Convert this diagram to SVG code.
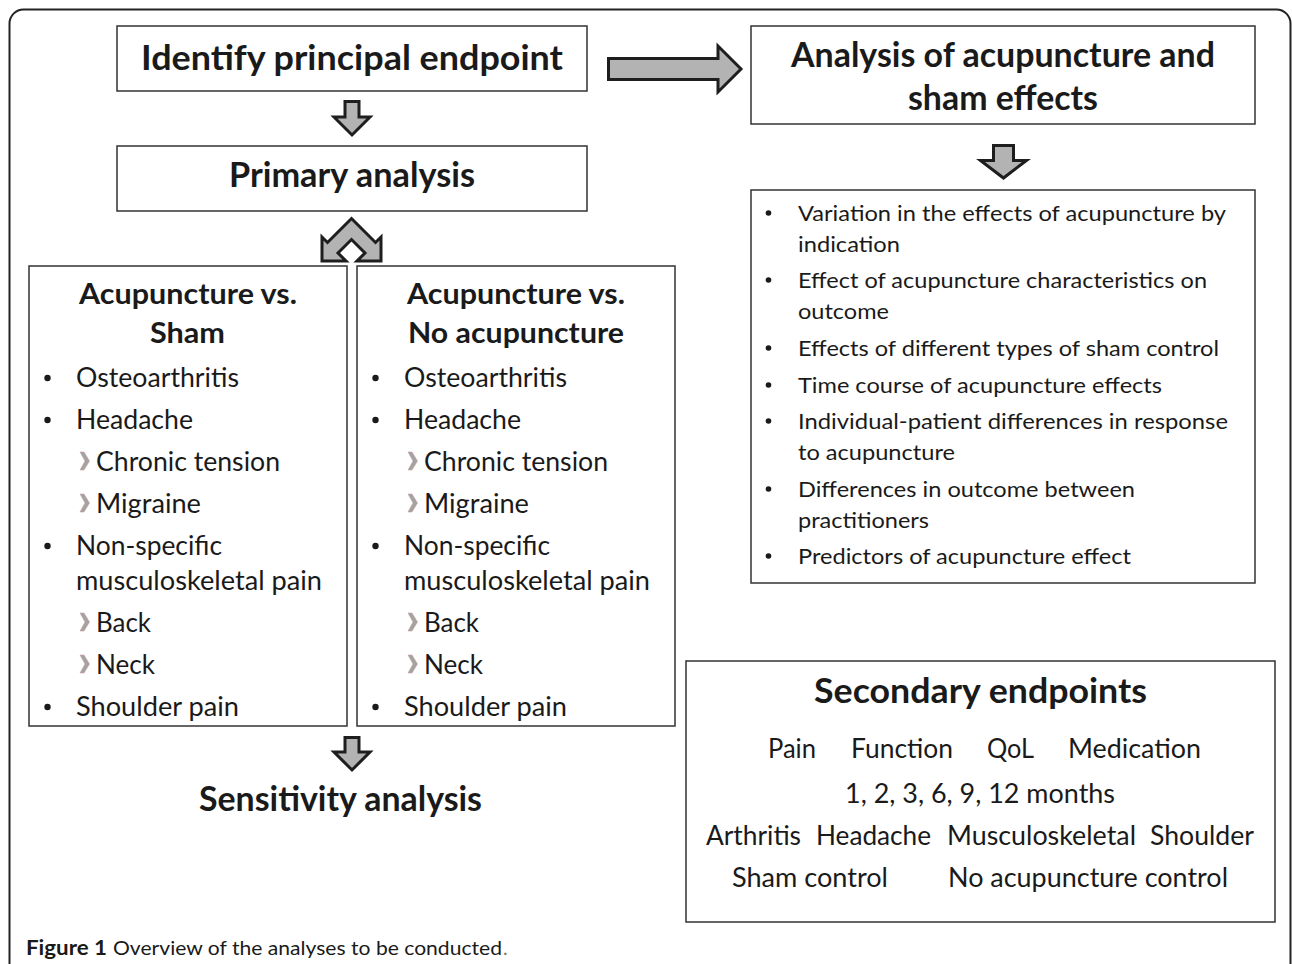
<svg xmlns="http://www.w3.org/2000/svg" width="1292" height="964" viewBox="0 0 1292 964">
<style>
text{font-family:Lato,"Open Sans","Liberation Sans",sans-serif;fill:#1a1a1a}
.box{fill:#fff;stroke:#333;stroke-width:1.5}
.h1{font-size:34px;font-weight:bold}
.h2{font-size:29px;font-weight:bold}
.it{font-size:26px}
.li{font-size:22px}
.cap{font-size:20px}
.arr{fill:#b3b3b3;stroke:#1e1e1e;stroke-width:3;stroke-linejoin:miter}
.dot{fill:#1a1a1a}
.chev{fill:#a3a3a3;stroke:#c9a0a0;stroke-width:0.6}
</style>
<rect x="9.5" y="9.5" width="1281" height="1010" rx="14" fill="none" stroke="#222" stroke-width="2"/>

<g id="connectors">
<polygon class="arr" points="608.5,58.5 718,58.5 718,46 741,69 718,92 718,79.5 608.5,79.5"/>
<polygon class="arr" points="345,101.5 359,101.5 359,117 370,117 352,135 334,117 345,117"/>
<polygon class="arr" points="351.5,218.5 375.5,242.5 381,237 381,261 357,261 365,253 351.5,239.5 338,253 346,261 322,261 322,237 327.5,242.5"/>
<polygon class="arr" points="345,737.5 359,737.5 359,752 370,752 352,770 334,752 345,752"/>
<polygon class="arr" points="993.5,145.5 1013.5,145.5 1013.5,160.5 1026.5,160.5 1003.5,178 980.5,160.5 993.5,160.5"/>
</g>

<g id="identify">
<rect class="box" x="117" y="26" width="470" height="65"/>
<text class="h1" x="141" y="70" textLength="422" lengthAdjust="spacingAndGlyphs">Identify principal endpoint</text>
</g>

<g id="analysis">
<rect class="box" x="751" y="26" width="504" height="98"/>
<text class="h1" x="791" y="67" textLength="424" lengthAdjust="spacingAndGlyphs">Analysis of acupuncture and</text>
<text class="h1" x="908" y="110" textLength="190" lengthAdjust="spacingAndGlyphs">sham effects</text>
</g>

<g id="primary">
<rect class="box" x="117" y="146" width="470" height="65"/>
<text class="h1" x="229" y="187" textLength="246" lengthAdjust="spacingAndGlyphs">Primary analysis</text>
</g>

<g id="sham">
<rect class="box" x="29" y="266" width="318" height="460"/>
<text class="h2" x="79" y="304" textLength="218" lengthAdjust="spacingAndGlyphs">Acupuncture vs.</text>
<text class="h2" x="150" y="343" textLength="75" lengthAdjust="spacingAndGlyphs">Sham</text>
<circle class="dot" cx="47.5" cy="378" r="3.2"/>
<text class="it" x="76" y="387" textLength="163" lengthAdjust="spacingAndGlyphs">Osteoarthritis</text>
<circle class="dot" cx="47.5" cy="420" r="3.2"/>
<text class="it" x="76" y="429" textLength="117" lengthAdjust="spacingAndGlyphs">Headache</text>
<polygon class="chev" points="80,452 84,452 89.5,461 84,470 80,470 85,461"/>
<text class="it" x="96" y="471" textLength="184" lengthAdjust="spacingAndGlyphs">Chronic tension</text>
<polygon class="chev" points="80,494 84,494 89.5,503 84,512 80,512 85,503"/>
<text class="it" x="96" y="513" textLength="105" lengthAdjust="spacingAndGlyphs">Migraine</text>
<circle class="dot" cx="47.5" cy="546" r="3.2"/>
<text class="it" x="76" y="555" textLength="146" lengthAdjust="spacingAndGlyphs">Non-specific</text>
<text class="it" x="76" y="590" textLength="246" lengthAdjust="spacingAndGlyphs">musculoskeletal pain</text>
<polygon class="chev" points="80,613 84,613 89.5,622 84,631 80,631 85,622"/>
<text class="it" x="96" y="632" textLength="55" lengthAdjust="spacingAndGlyphs">Back</text>
<polygon class="chev" points="80,655 84,655 89.5,664 84,673 80,673 85,664"/>
<text class="it" x="96" y="674" textLength="59" lengthAdjust="spacingAndGlyphs">Neck</text>
<circle class="dot" cx="47.5" cy="707" r="3.2"/>
<text class="it" x="76" y="716" textLength="163" lengthAdjust="spacingAndGlyphs">Shoulder pain</text>
</g>

<g id="noacu">
<rect class="box" x="357" y="266" width="318" height="460"/>
<text class="h2" x="407" y="304" textLength="218" lengthAdjust="spacingAndGlyphs">Acupuncture vs.</text>
<text class="h2" x="408" y="343" textLength="216" lengthAdjust="spacingAndGlyphs">No acupuncture</text>
<circle class="dot" cx="375.5" cy="378" r="3.2"/>
<text class="it" x="404" y="387" textLength="163" lengthAdjust="spacingAndGlyphs">Osteoarthritis</text>
<circle class="dot" cx="375.5" cy="420" r="3.2"/>
<text class="it" x="404" y="429" textLength="117" lengthAdjust="spacingAndGlyphs">Headache</text>
<polygon class="chev" points="408,452 412,452 417.5,461 412,470 408,470 413,461"/>
<text class="it" x="424" y="471" textLength="184" lengthAdjust="spacingAndGlyphs">Chronic tension</text>
<polygon class="chev" points="408,494 412,494 417.5,503 412,512 408,512 413,503"/>
<text class="it" x="424" y="513" textLength="105" lengthAdjust="spacingAndGlyphs">Migraine</text>
<circle class="dot" cx="375.5" cy="546" r="3.2"/>
<text class="it" x="404" y="555" textLength="146" lengthAdjust="spacingAndGlyphs">Non-specific</text>
<text class="it" x="404" y="590" textLength="246" lengthAdjust="spacingAndGlyphs">musculoskeletal pain</text>
<polygon class="chev" points="408,613 412,613 417.5,622 412,631 408,631 413,622"/>
<text class="it" x="424" y="632" textLength="55" lengthAdjust="spacingAndGlyphs">Back</text>
<polygon class="chev" points="408,655 412,655 417.5,664 412,673 408,673 413,664"/>
<text class="it" x="424" y="674" textLength="59" lengthAdjust="spacingAndGlyphs">Neck</text>
<circle class="dot" cx="375.5" cy="707" r="3.2"/>
<text class="it" x="404" y="716" textLength="163" lengthAdjust="spacingAndGlyphs">Shoulder pain</text>
</g>

<g id="sensitivity">
<text class="h1" x="199" y="811" textLength="283" lengthAdjust="spacingAndGlyphs">Sensitivity analysis</text>
</g>

<g id="effects-list">
<rect class="box" x="751" y="190" width="504" height="393"/>
<circle class="dot" cx="768.5" cy="213" r="2.8"/>
<text class="li" x="798" y="221" textLength="428" lengthAdjust="spacingAndGlyphs">Variation in the effects of acupuncture by</text>
<text class="li" x="798" y="252" textLength="102" lengthAdjust="spacingAndGlyphs">indication</text>
<circle class="dot" cx="768.5" cy="280" r="2.8"/>
<text class="li" x="798" y="288" textLength="409" lengthAdjust="spacingAndGlyphs">Effect of acupuncture characteristics on</text>
<text class="li" x="798" y="319" textLength="91" lengthAdjust="spacingAndGlyphs">outcome</text>
<circle class="dot" cx="768.5" cy="348" r="2.8"/>
<text class="li" x="798" y="356" textLength="421" lengthAdjust="spacingAndGlyphs">Effects of different types of sham control</text>
<circle class="dot" cx="768.5" cy="385" r="2.8"/>
<text class="li" x="798" y="393" textLength="364" lengthAdjust="spacingAndGlyphs">Time course of acupuncture effects</text>
<circle class="dot" cx="768.5" cy="421" r="2.8"/>
<text class="li" x="798" y="429" textLength="430" lengthAdjust="spacingAndGlyphs">Individual-patient differences in response</text>
<text class="li" x="798" y="460" textLength="157" lengthAdjust="spacingAndGlyphs">to acupuncture</text>
<circle class="dot" cx="768.5" cy="489" r="2.8"/>
<text class="li" x="798" y="497" textLength="337" lengthAdjust="spacingAndGlyphs">Differences in outcome between</text>
<text class="li" x="798" y="528" textLength="131" lengthAdjust="spacingAndGlyphs">practitioners</text>
<circle class="dot" cx="768.5" cy="556" r="2.8"/>
<text class="li" x="798" y="564" textLength="333" lengthAdjust="spacingAndGlyphs">Predictors of acupuncture effect</text>
</g>

<g id="secondary">
<rect class="box" x="686" y="661" width="589" height="261"/>
<text class="h1" x="814" y="703" textLength="333" lengthAdjust="spacingAndGlyphs">Secondary endpoints</text>
<text class="it" x="768" y="758" textLength="48" lengthAdjust="spacingAndGlyphs">Pain</text>
<text class="it" x="851" y="758" textLength="102" lengthAdjust="spacingAndGlyphs">Function</text>
<text class="it" x="987" y="758" textLength="47" lengthAdjust="spacingAndGlyphs">QoL</text>
<text class="it" x="1068" y="758" textLength="133" lengthAdjust="spacingAndGlyphs">Medication</text>
<text class="it" x="845" y="803" textLength="270" lengthAdjust="spacingAndGlyphs">1, 2, 3, 6, 9, 12 months</text>
<text class="it" x="706" y="845" textLength="95" lengthAdjust="spacingAndGlyphs">Arthritis</text>
<text class="it" x="816" y="845" textLength="115" lengthAdjust="spacingAndGlyphs">Headache</text>
<text class="it" x="947" y="845" textLength="189" lengthAdjust="spacingAndGlyphs">Musculoskeletal</text>
<text class="it" x="1150" y="845" textLength="104" lengthAdjust="spacingAndGlyphs">Shoulder</text>
<text class="it" x="732" y="887" textLength="156" lengthAdjust="spacingAndGlyphs">Sham control</text>
<text class="it" x="948" y="887" textLength="280" lengthAdjust="spacingAndGlyphs">No acupuncture control</text>
</g>

<g id="caption">
<text class="cap" x="26" y="955" font-weight="bold" textLength="81" lengthAdjust="spacingAndGlyphs">Figure 1</text>
<text class="cap" x="113" y="955" textLength="389" lengthAdjust="spacingAndGlyphs">Overview of the analyses to be conducted</text>
<text class="cap" x="503" y="955" fill="#777" style="fill:#777">.</text>
</g>
</svg>
